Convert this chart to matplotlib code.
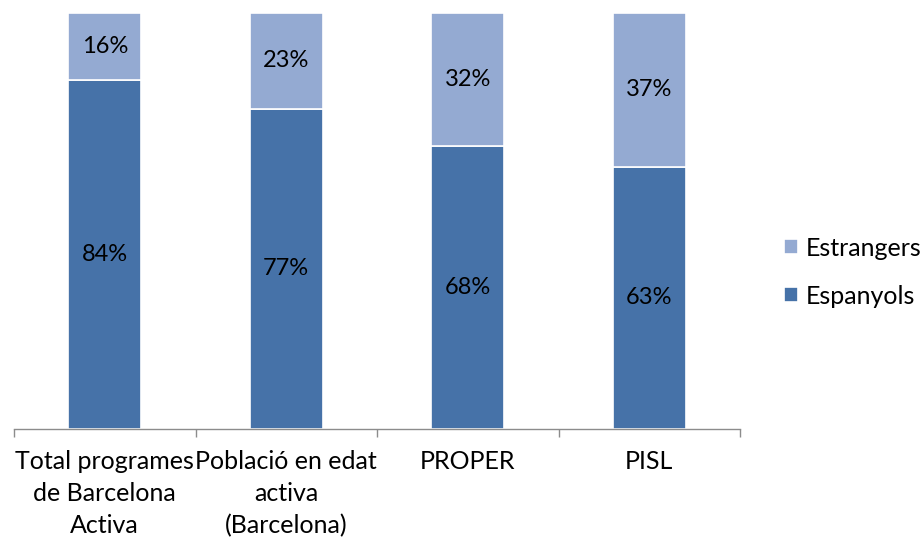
import numpy as np
import matplotlib.pyplot as plt

categories = ["Total programes\nde Barcelona\nActiva", "Població en edat\nactiva\n(Barcelona)", "PROPER", "PISL"]
espanyols = [84, 77, 68, 63]
estrangers = [16, 23, 32, 37]

dark = "#4672A8"
light = "#94AAD2"

plt.rcParams["font.family"] = ["Lato", "DejaVu Sans"]

fig = plt.figure(figsize=(9.23, 5.39), dpi=100)
ax = fig.add_axes([14 / 923, 110 / 539, 726 / 923, 416 / 539])

x = np.arange(len(categories))
w = 0.4
b1 = ax.bar(x, espanyols, w, color=dark, edgecolor="white", linewidth=1.2, label="Espanyols")
b2 = ax.bar(x, estrangers, w, bottom=espanyols, color=light, edgecolor="white", linewidth=1.2, label="Estrangers")

for xi, e, s in zip(x, espanyols, estrangers):
    ax.text(xi, e / 2, f"{e}%", ha="center", va="center", fontsize=17, color="black")
    ax.text(xi, e + s / 2, f"{s}%", ha="center", va="center", fontsize=17, color="black")

ax.set_xlim(-0.5, len(categories) - 0.5)
ax.set_ylim(0, 100)
ax.set_yticks([])
for side in ("top", "right", "left"):
    ax.spines[side].set_visible(False)
ax.spines["bottom"].set_color("#8c8c8c")
ax.spines["bottom"].set_linewidth(1.0)

ax.set_xticks(x)
ax.set_xticklabels(categories, fontsize=18, linespacing=1.48)
ax.tick_params(axis="x", which="major", length=0, pad=15)
ax.set_xticks(np.arange(-0.5, len(categories)), minor=True)
ax.tick_params(axis="x", which="minor", length=6, width=1.0, color="#8c8c8c")

handles = [b2, b1]
leg = fig.legend(handles, ["Estrangers", "Espanyols"], loc="center left",
                 bbox_to_anchor=(784 / 923, 1 - 272 / 539), frameon=False,
                 fontsize=18, handlelength=0.55, handleheight=0.55,
                 handletextpad=0.32, labelspacing=1.0, borderpad=0, borderaxespad=0)

fig.savefig("out.png", dpi=100)
